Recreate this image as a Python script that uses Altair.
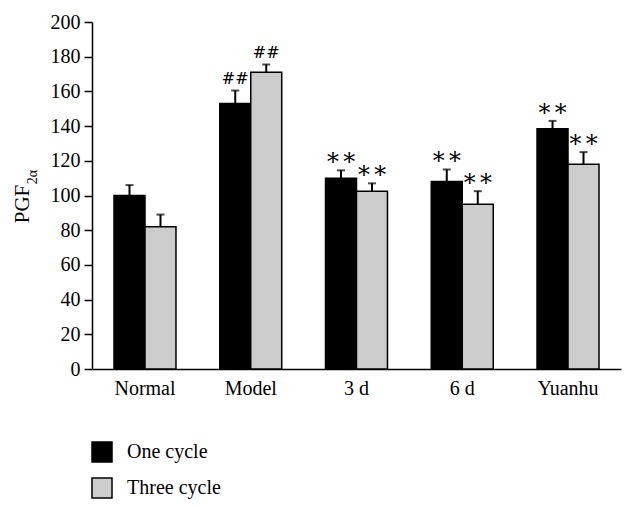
import altair as alt
import pandas as pd

categories = ["Normal", "Model", "3 d", "6 d", "Yuanhu"]
series = ["One cycle", "Three cycle"]
one_cycle = [100, 153, 110, 108, 138.5]
three_cycle = [82, 171, 102.5, 95, 118]
one_err = [106, 160.5, 114.5, 115, 143]
three_err = [89, 175.5, 107, 102.5, 125]
one_marks = ["", "##", "∗∗", "∗∗", "∗∗"]
three_marks = ["", "##", "∗∗", "∗∗", "∗∗"]
y_ticks = [0, 20, 40, 60, 80, 100, 120, 140, 160, 180, 200]

rows = []
for i, c in enumerate(categories):
    rows.append({"category": c, "series": series[0], "value": one_cycle[i],
                 "err": one_err[i], "mark": one_marks[i]})
    rows.append({"category": c, "series": series[1], "value": three_cycle[i],
                 "err": three_err[i], "mark": three_marks[i]})
df = pd.DataFrame(rows)

FONT = "Liberation Serif"

x = alt.X("category:N", sort=categories,
          scale=alt.Scale(paddingInner=0.414, paddingOuter=0.208),
          axis=alt.Axis(title=None, ticks=False, labelAngle=0, labelFont=FONT,
                        labelFontSize=20, labelColor="black", labelPadding=9,
                        domainColor="black", domainWidth=1.5))
xo = alt.XOffset("series:N", sort=series,
                 scale=alt.Scale(paddingInner=0, paddingOuter=0))
yscale = alt.Scale(domain=[0, 200], nice=False)
yaxis = alt.Axis(title=None, values=y_ticks, grid=False, tickSize=8,
                 tickColor="black", tickWidth=1.5, domainColor="black",
                 domainWidth=1.5, labelFont=FONT, labelFontSize=20,
                 labelColor="black", labelPadding=4, labelOverlap=False)

bars = alt.Chart(df).mark_bar(stroke="black", strokeWidth=1.5).encode(
    x=x, xOffset=xo,
    y=alt.Y("value:Q", scale=yscale, axis=yaxis),
    color=alt.Color("series:N", sort=series,
                    scale=alt.Scale(domain=series, range=["black", "#cccccc"]),
                    legend=alt.Legend(title=None, orient="none", legendX=-1,
                                      legendY=419, symbolType="square",
                                      symbolSize=400, symbolStrokeColor="black",
                                      symbolStrokeWidth=1.5, labelFont=FONT,
                                      labelFontSize=20, labelColor="black",
                                      rowPadding=10, labelOffset=14, padding=0)),
)

rules = alt.Chart(df).mark_rule(color="black", strokeWidth=2).encode(
    x=x, xOffset=xo, y=alt.Y("value:Q", scale=yscale, axis=yaxis), y2="err:Q")

caps = alt.Chart(df).mark_tick(color="black", orient="horizontal", size=8,
                               thickness=2).encode(
    x=x, xOffset=xo, y=alt.Y("err:Q", scale=yscale, axis=yaxis))

hash_labels = alt.Chart(df).transform_filter(
    alt.datum.mark == "##").mark_text(
    baseline="middle", dy=-12, font="DejaVu Serif", fontSize=16,
    color="black").encode(
    x=x, xOffset=xo, y=alt.Y("err:Q", scale=yscale, axis=yaxis), text="mark:N")

star_labels = alt.Chart(df).transform_filter(
    alt.datum.mark == "∗∗").mark_text(
    baseline="middle", dy=-12, font="DejaVu Serif", fontSize=24,
    color="black").encode(
    x=x, xOffset=xo, y=alt.Y("err:Q", scale=yscale, axis=yaxis), text="mark:N")

title_main = alt.Chart(pd.DataFrame({"t": ["PGF"]})).mark_text(
    angle=270, align="center", baseline="middle", font=FONT, fontSize=21,
    color="black").encode(x=alt.value(-69), y=alt.value(182), text="t:N")
title_sub = alt.Chart(pd.DataFrame({"t": ["2α"]})).mark_text(
    angle=270, align="center", baseline="middle", font=FONT, fontSize=14,
    color="black").encode(x=alt.value(-59), y=alt.value(155), text="t:N")

chart = alt.layer(bars, rules, caps, hash_labels, star_labels,
                  title_main, title_sub).properties(
    width=529, height=347,
    autosize=alt.AutoSizeParams(type="none"),
    padding={"left": 84, "top": 14, "right": 7, "bottom": 130},
).configure_view(stroke=None)

chart.save("out.html", embed_options={"renderer": "svg", "actions": False})
